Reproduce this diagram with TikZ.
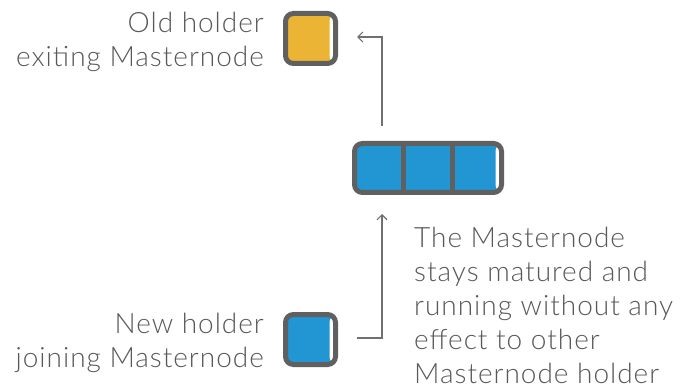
\documentclass[tikz,border=0pt]{standalone}
\usepackage{fontspec}
\setmainfont{Lato Light}[LetterSpace=3.5]
\usetikzlibrary{arrows.meta}
\usetikzlibrary{positioning}
\definecolor{rim}{HTML}{606060}
\definecolor{ink}{HTML}{585858}
\definecolor{wire}{HTML}{707070}
\definecolor{mnblue}{HTML}{2196D3}
\definecolor{mngold}{HTML}{EBB434}
\tikzset{
  holder/.style={draw=rim, line width=5pt, rounded corners=8pt, inner sep=0pt, outer sep=0pt,
    minimum width=50pt, minimum height=50pt,
    path picture={\fill[white] ([xshift=-6pt]path picture bounding box.north east) rectangle ([xshift=-2pt]path picture bounding box.south east);}},
  caption/.style={text=ink, font=\fontsize{28}{34}\selectfont, inner sep=0pt},
  link/.style={draw=wire, line width=1.2pt, -{Straight Barb[length=5pt,width=10pt]}}
}

\begin{document}
\begin{tikzpicture}[x=1pt, y=-1pt]
      \useasboundingbox (0,0) rectangle (691,390);

      \node[holder, fill=mngold] (oldbox) at (310.5,38.5) {};
      \node[holder, fill=mnblue] (newbox) at (310.5,339.5) {};
      \node[holder, fill=mnblue, minimum width=147pt, minimum height=49pt] (pool) at (428,168) {};
      \draw[rim, line width=5pt] ([xshift=-25pt]pool.north) -- ([xshift=-25pt]pool.south);
      \draw[rim, line width=5pt] ([xshift=24pt]pool.north) -- ([xshift=24pt]pool.south);

      \node[caption, align=right, left=21.5pt of oldbox, yshift=-3pt] (oldlbl) {Old holder\\exiting Masternode};
      \node[caption, align=right, left=21.5pt of newbox, yshift=-3pt] (newlbl) {New holder\\joining Masternode};
      \node[caption, align=left, anchor=west] (note) at (414,305) {The Masternode\\stays matured and\\running without any\\effect to other\\Masternode holder};

      \draw[link] ([xshift=-46pt, yshift=17.5pt]pool.north) |- ([xshift=21.5pt, yshift=1.5pt]oldbox.east);
      \draw[link] ([xshift=21.5pt, yshift=1.5pt]newbox.east) -| ([xshift=-46pt, yshift=-21.5pt]pool.south);
    \end{tikzpicture}
\end{document}
